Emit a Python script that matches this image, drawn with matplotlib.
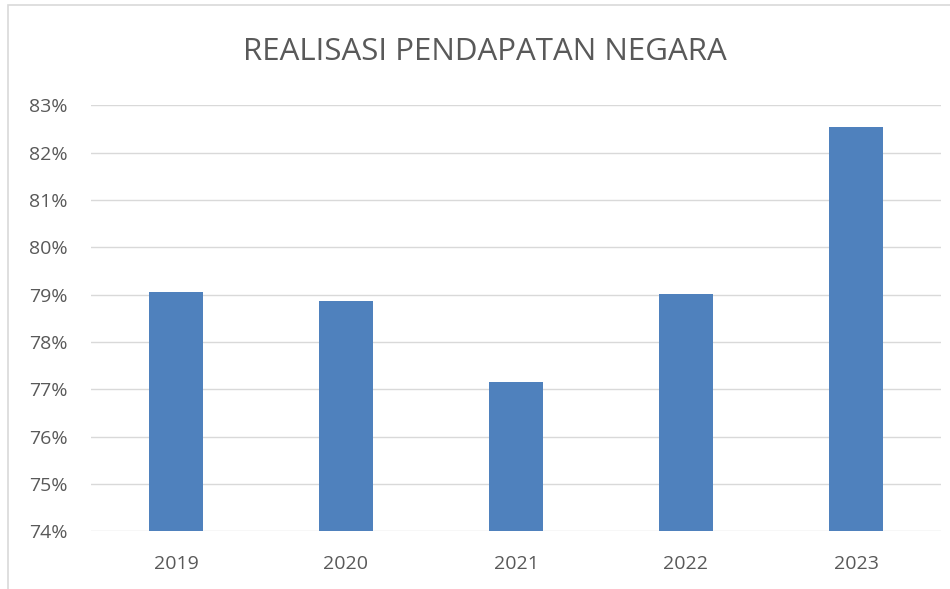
import matplotlib
matplotlib.use("Agg")
import matplotlib.pyplot as plt
from matplotlib.patches import Rectangle
from matplotlib.ticker import FuncFormatter, MultipleLocator
from matplotlib import font_manager

years = ["2019", "2020", "2021", "2022", "2023"]
realisasi = [79.06, 78.87, 77.15, 79.02, 82.55]
title = "REALISASI PENDAPATAN NEGARA"

names = {f.name for f in font_manager.fontManager.ttflist}
fam = "Liberation Sans Narrow" if "Liberation Sans Narrow" in names else "Open Sans"
plt.rcParams["font.family"] = [fam, "DejaVu Sans"]

fig = plt.figure(figsize=(9.5, 5.89), dpi=100)
ax = fig.add_axes([0.0958, 0.098, 0.8947, 0.7232])

x = range(len(years))
ax.bar(x, realisasi, width=0.32, color="#4f81bd", zorder=3)
ax.set_xlim(-0.5, len(years) - 0.5)
ax.set_ylim(74, 83)
ax.yaxis.set_major_locator(MultipleLocator(1))
ax.yaxis.set_major_formatter(FuncFormatter(lambda v, p: f"{v:.0f}%"))
ax.set_xticks(list(x))
ax.set_xticklabels(years)
ax.grid(axis="y", color="#d9d9d9", linewidth=1.0, zorder=0)
for s in ax.spines.values():
    s.set_visible(False)
ax.tick_params(axis="both", length=0, colors="#595959", labelsize=14)
ax.tick_params(axis="x", pad=17)
ax.tick_params(axis="y", pad=17)

fig.text(0.51, 0.912, title, ha="center", va="center", fontsize=22.5, color="#595959")

fig.patches.append(Rectangle((8 / 950, -0.01), 1.0, 1 - 5 / 589 + 0.01, transform=fig.transFigure,
                             fill=False, edgecolor="#d9d9d9", linewidth=1.2))

fig.savefig("out.png", dpi=100)
